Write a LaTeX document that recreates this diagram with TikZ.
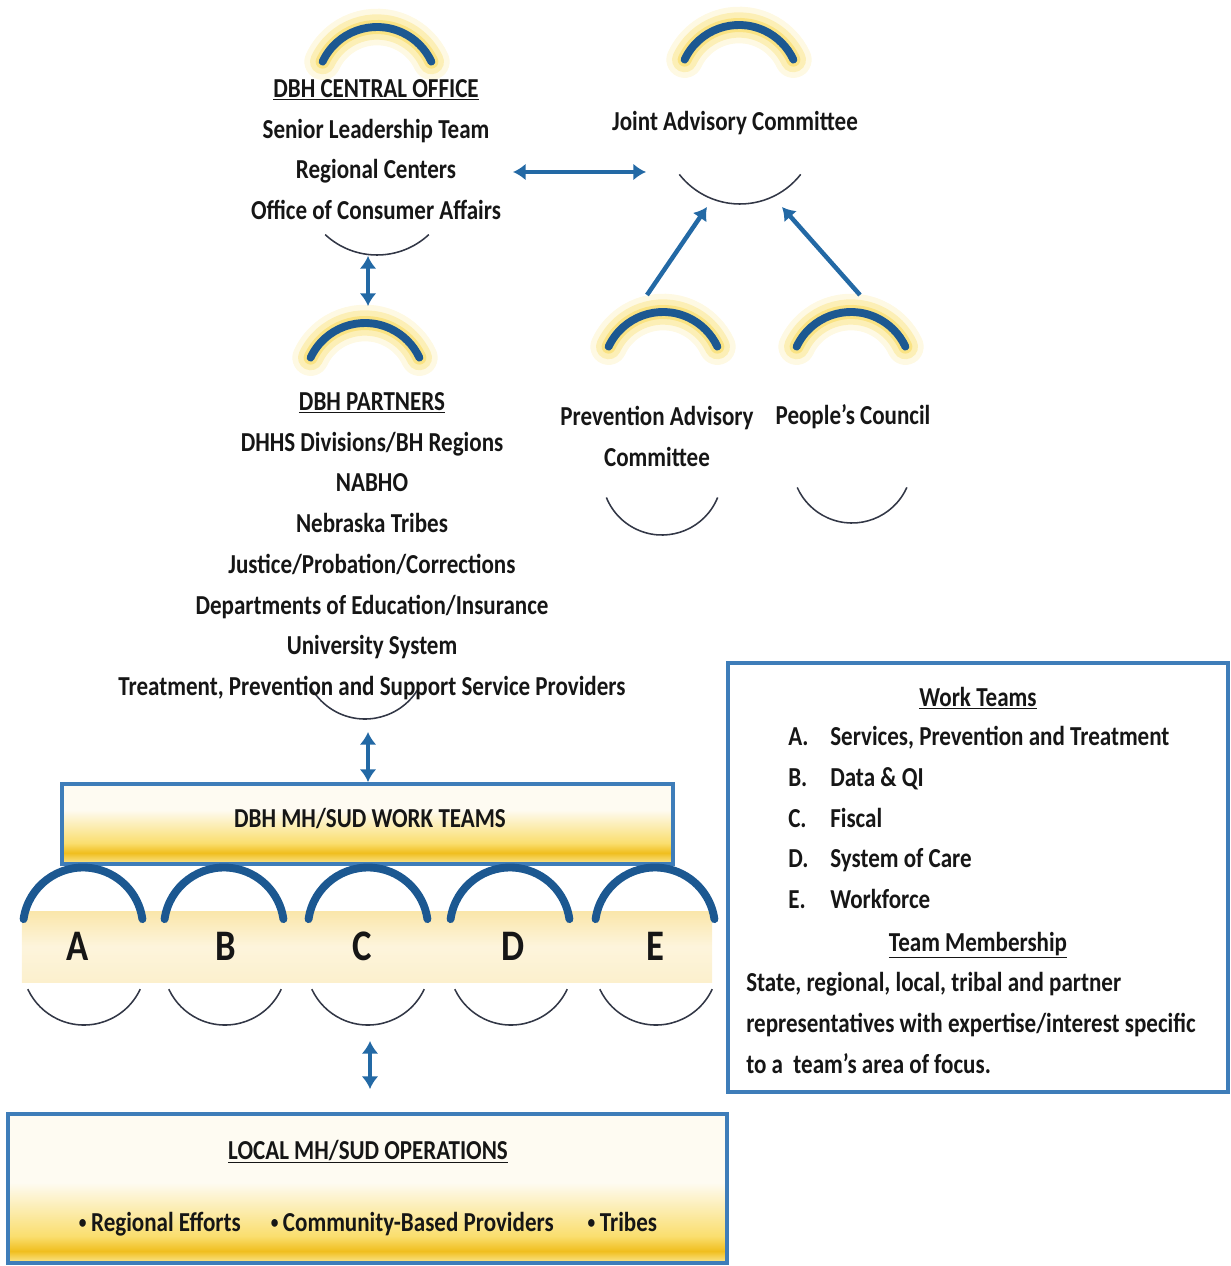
\documentclass[tikz,border=0pt]{standalone}
\usepackage{fontspec}
\setmainfont{Carlito}[FakeStretch=0.84]
\usepackage{xcolor}
\usepackage{tikz}
\usetikzlibrary{arrows.meta, positioning}
\definecolor{dbhblue}{RGB}{28,88,145}
\definecolor{arrowblue}{RGB}{35,105,165}
\definecolor{boxblue}{RGB}{62,125,185}
\definecolor{glowyellow}{RGB}{248,216,80}
\definecolor{arcgray}{RGB}{50,55,70}
\definecolor{inkblack}{RGB}{22,22,22}
\definecolor{creamwhite}{RGB}{254,251,242}
\definecolor{paleband}{RGB}{252,240,205}
\definecolor{bandtop}{RGB}{250,230,170}
\definecolor{lightgold}{RGB}{251,232,150}
\definecolor{deepgold}{RGB}{240,190,30}
\definecolor{midgold}{RGB}{250,222,110}

% box fills: white at the top, gold band near the bottom
\pgfdeclareverticalshading{teamsfill}{100bp}{color(0bp)=(lightgold); color(25bp)=(lightgold);
  color(32bp)=(deepgold); color(38bp)=(midgold); color(59bp)=(creamwhite); color(100bp)=(creamwhite)}
\pgfdeclareverticalshading{localfill}{100bp}{color(0bp)=(lightgold); color(25bp)=(lightgold);
  color(29bp)=(deepgold); color(34bp)=(midgold); color(52bp)=(creamwhite); color(100bp)=(creamwhite)}

\newcommand{\dbhtext}{\fontsize{19.5}{29}\selectfont\bfseries}
\newcommand{\dbhletter}{\fontsize{31}{36}\selectfont\bfseries}
\newcommand{\dbhdot}{\raisebox{1.5pt}{\fontsize{13}{13}\selectfont\textbullet}}

% top arc with yellow halo, centred on #1
\newcommand{\glowarc}[1]{%
  \draw[halo, line width=26pt, opacity=.16] ([shift={(205:60)}]#1) arc[start angle=205, end angle=335, radius=60];
  \draw[halo, line width=18pt, opacity=.3] ([shift={(205:60)}]#1) arc[start angle=205, end angle=335, radius=60];
  \draw[halo, line width=10pt, opacity=.5] ([shift={(205:60)}]#1) arc[start angle=205, end angle=335, radius=60];
  \draw[ringtop] ([shift={(205:60)}]#1) arc[start angle=205, end angle=335, radius=60];}
% thin lower arc: centre #1, radius #2, end angle #3
\newcommand{\lowarc}[3]{%
  \draw[ringlow] ([shift={(#3:#2)}]#1) arc[start angle=#3, end angle=180-#3, radius=#2];}
% plain top arc of a work team
\newcommand{\teamarc}[1]{%
  \draw[ringtop] ([shift={(188:60)}]#1) arc[start angle=188, end angle=352, radius=60];}

\begin{document}
\begin{tikzpicture}[
  x=0.025cm, y=-0.025cm,
  txt/.style={inner sep=0pt, align=center, font=\dbhtext, text=inkblack},
  letter/.style={inner sep=0pt, font=\dbhletter, text=inkblack},
  halo/.style={glowyellow, line cap=round},
  ringtop/.style={dbhblue, line width=5.6pt, line cap=round},
  ringlow/.style={arcgray, line width=1.1pt},
  arr/.style={-{Latex[length=9pt, width=12pt]}, line width=3.2pt, arrowblue},
  dblarr/.style={{Latex[length=9pt, width=12pt]}-{Latex[length=9pt, width=12pt]}, line width=3.2pt, arrowblue},
  mhbox/.style={rectangle, draw=boxblue, line width=2.8pt, shading=teamsfill,
                minimum width=15.275cm, minimum height=2cm},
  localbox/.style={rectangle, draw=boxblue, line width=2.8pt, shading=localfill,
                   minimum width=17.975cm, minimum height=3.725cm},
  legendbox/.style={rectangle, draw=boxblue, line width=2.8pt, fill=white,
                    minimum width=12.5cm, minimum height=10.725cm},
  band/.style={rectangle, top color=bandtop, bottom color=paleband, middle color=paleband!70!white,
               minimum width=17.25cm, minimum height=1.775cm, inner sep=0pt},
]
\useasboundingbox (0,0) rectangle (1230,1266);

% Ring centres
\coordinate (co-ring)  at (377,87);
\coordinate (jac-ring) at (739,85);
\coordinate (pt-ring)  at (365,383);
\coordinate (pac-ring) at (663,372);
\coordinate (pc-ring)  at (851,372);

% Rings round the committees
\glowarc{co-ring}
\glowarc{jac-ring}
\glowarc{pt-ring}
\glowarc{pac-ring}
\glowarc{pc-ring}
\lowarc{377,179}{76}{47}
\lowarc{740,127}{77}{38}
\lowarc{365,657}{62}{30}
\lowarc{662,475}{60}{22}
\lowarc{852,463}{60}{24}

% Committees
\node[txt, anchor=north] (co) at (376,79)
  {\underline{DBH CENTRAL OFFICE}\\Senior Leadership Team\\Regional Centers\\Office of Consumer Affairs};
\node[txt, anchor=base] (jac) at (735,131) {Joint Advisory Committee};
\node[txt, anchor=north] (partners) at (372,392)
  {\underline{DBH PARTNERS}\\DHHS Divisions/BH Regions\\NABHO\\Nebraska Tribes\\Justice/Probation/Corrections\\
   Departments of Education/Insurance\\University System\\Treatment, Prevention and Support Service Providers};
\node[txt, anchor=north] (pac) at (657,406) {Prevention Advisory\\Committee};
\node[txt, anchor=base] (pc) at (853,424) {People’s Council};

% Work teams
\node[mhbox] (mhbox) at (367.5,824) {};
\node[txt, anchor=base] (mhlabel) at (370,827) {DBH MH/SUD WORK TEAMS};
\node[band] (band) at (367,946.5) {};
\teamarc{83,927.5}
\teamarc{224,927.5}
\teamarc{368,927.5}
\teamarc{510,927.5}
\teamarc{655,927.5}
\lowarc{84,963}{62}{25}
\lowarc{225,963}{62}{25}
\lowarc{368,963}{62}{25}
\lowarc{511,963}{62}{25}
\lowarc{656,963}{62}{25}
\node[letter] (team-a) at (78,946)  {A};
\node[letter] (team-b) at (226,946) {B};
\node[letter] (team-c) at (362,946) {C};
\node[letter] (team-d) at (513,946) {D};
\node[letter] (team-e) at (655,946) {E};

% Local operations
\node[localbox] (local) at (367.5,1188.5) {};
\node[txt, anchor=base] (local-title) at (368,1159) {\underline{LOCAL MH/SUD OPERATIONS}};
\node[txt, anchor=base] (local-items) at (368,1231)
  {\dbhdot\,Regional Efforts\hspace{0.75cm}\dbhdot\,Community-Based Providers\hspace{0.85cm}\dbhdot\,Tribes};

% Legend
\node[legendbox] (legend) at (978,877.5) {};
\node[txt, anchor=base] (wt-title) at (978,706) {\underline{Work Teams}};
\node[txt, anchor=north west, align=left] (wt-list) at (788,726)
  {\makebox[1.05cm][l]{A.}Services, Prevention and Treatment\\
   \makebox[1.05cm][l]{B.}Data \& QI\\
   \makebox[1.05cm][l]{C.}Fiscal\\
   \makebox[1.05cm][l]{D.}System of Care\\
   \makebox[1.05cm][l]{E.}Workforce};
\node[txt, anchor=base] (tm-title) at (978,951) {\underline{Team Membership}};
\node[txt, anchor=north west, align=left] (tm-text) at (746,972)
  {State, regional, local, tribal and partner\\representatives with expertise/interest specific\\to a\ \ team’s area of focus.};

% Connectors
\coordinate (co-bot)   at (368,256);
\coordinate (pt-top)   at (368,306);
\coordinate (co-side)  at (513,172);
\coordinate (jac-side) at (646,172);
\coordinate (pac-top)  at (647,295);
\coordinate (pc-top)   at (860,295);
\coordinate (jac-bl)   at (707,207);
\coordinate (jac-br)   at (782,207);
\coordinate (pt-bot)   at (368,732);
\coordinate (teams-bot) at (370,1041);
\coordinate (local-top) at (370,1089);

\draw[dblarr] (co-bot) -- (pt-top);
\draw[dblarr] (co-side) -- (jac-side);
\draw[arr] (pac-top) -- (jac-bl);
\draw[arr] (pc-top) -- (jac-br);
\draw[dblarr] (pt-bot) -- (pt-bot |- mhbox.north);
\draw[dblarr] (teams-bot) -- (local-top);

\end{tikzpicture}
\end{document}
